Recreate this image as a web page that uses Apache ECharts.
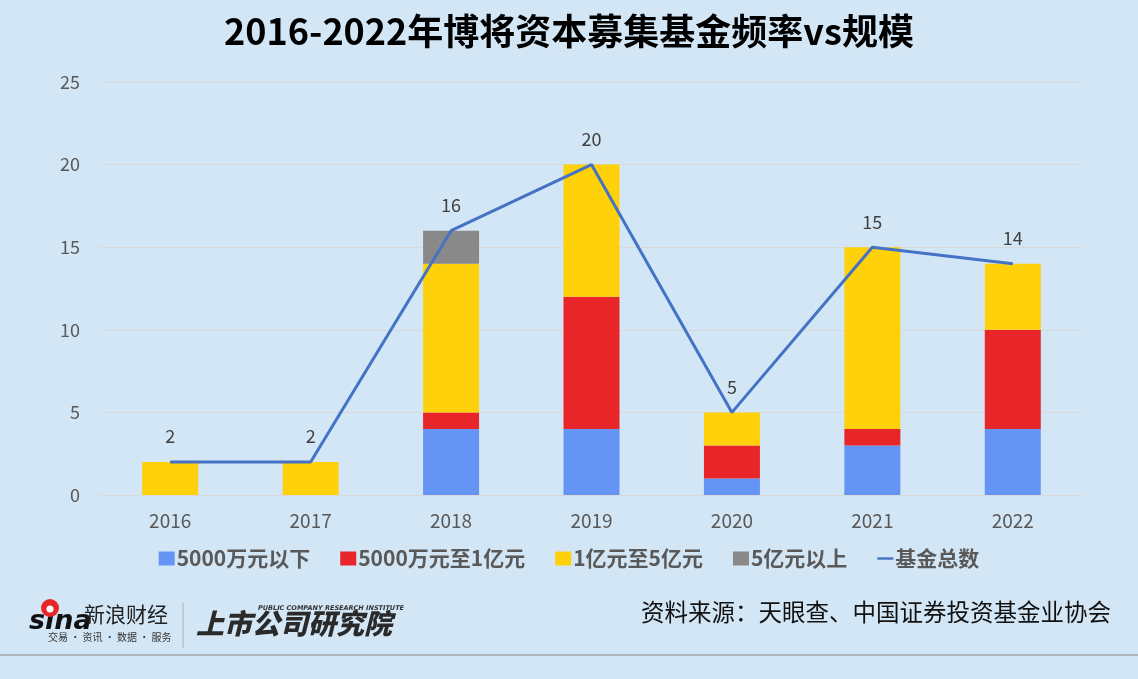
<!DOCTYPE html>
<html><head><meta charset="utf-8">
<script src="https://cdn.jsdelivr.net/npm/echarts@6/dist/echarts.min.js"></script>
<style>html,body{margin:0;padding:0;background:#d3e6f5;}#c{width:1138px;height:679px;}</style>
</head><body><div id="c"></div>
<script>
const categories = ['2016','2017','2018','2019','2020','2021','2022'];
const below5000w = [0,0,4,4,1,3,4];
const w5000to1y = [0,0,1,8,2,1,6];
const y1to5 = [2,2,9,8,2,11,4];
const above5y = [0,0,2,0,0,0,0];
const totals = [2,2,16,20,5,15,14];
const yTicks = {min:0, max:25, interval:5};

const chart = echarts.init(document.getElementById('c'));
const font = '"Noto Sans CJK SC", "Noto Sans", sans-serif';
function bar(name, data, color){
  return {name, type:'bar', stack:'a', data, barWidth:56, itemStyle:{color}, emphasis:{disabled:true}};
}
chart.setOption({
  backgroundColor:'#d3e6f5',
  animation:false,
  textStyle:{fontFamily:font},
  title:{text:'2016-2022年博将资本募集基金频率vs规模', left:'center', top:8,
    textStyle:{fontSize:36, fontWeight:'bold', color:'#000', fontFamily:font}},
  grid:{left:100, right:55, top:82, bottom:184, containLabel:false},
  legend:{bottom:105, left:'center', itemWidth:16, itemHeight:14, itemGap:30,
    textStyle:{fontSize:21, fontWeight:'bold', color:'#595959', fontFamily:font, padding:[0,0,0,-3]},
    data:[{name:'5000万元以下', icon:'rect'},{name:'5000万元至1亿元', icon:'rect'},{name:'1亿元至5亿元', icon:'rect'},{name:'5亿元以上', icon:'rect'},
      {name:'基金总数', icon:'path://M0,0 L20,0 L20,3 L0,3 Z', itemStyle:{color:'#4472c4'}}]},
  xAxis:{type:'category', data:categories, axisTick:{show:false},
    axisLine:{lineStyle:{color:'#d9d9d9'}},
    axisLabel:{fontSize:19, color:'#595959', margin:16, fontFamily:font}},
  yAxis:{type:'value', min:yTicks.min, max:yTicks.max, interval:yTicks.interval,
    axisLine:{show:false}, axisTick:{show:false},
    splitLine:{lineStyle:{color:'#d9d9d9'}},
    axisLabel:{fontSize:18, color:'#595959', margin:20, fontFamily:font}},
  series:[
    bar('5000万元以下', below5000w, '#6495f5'),
    bar('5000万元至1亿元', w5000to1y, '#e8262a'),
    bar('1亿元至5亿元', y1to5, '#fed10a'),
    bar('5亿元以上', above5y, '#898989'),
    {name:'基金总数', type:'line', data:totals, symbol:'circle', symbolSize:1, showSymbol:true,
      lineStyle:{color:'#4472c4', width:3},
      itemStyle:{color:'#4472c4'},
      label:{show:true, position:'top', distance:16, fontSize:18, color:'#404040', fontFamily:font}}
  ],
  graphic:[
    {type:'line', shape:{x1:0,y1:655,x2:1138,y2:655}, style:{stroke:'#a6a6a6', lineWidth:1.5}},
    {type:'text', left:29, top:608, style:{text:'sina', font:'italic bold 27px "DejaVu Sans", sans-serif', fill:'#111'}},
    {type:'circle', shape:{cx:50, cy:608, r:9}, style:{fill:'#e8262a'}},
    {type:'circle', shape:{cx:50, cy:609, r:3.5}, style:{fill:'#fff'}},
    {type:'text', left:84, top:604, style:{text:'新浪财经', font:'21px "Noto Sans CJK SC"', fill:'#222'}},
    {type:'text', left:48, top:632, style:{text:'交易 · 资讯 · 数据 · 服务', font:'10px "Noto Sans CJK SC"', fill:'#333'}},
    {type:'line', shape:{x1:183,y1:603,x2:183,y2:648}, style:{stroke:'#b0b0b0', lineWidth:1}},
    {type:'text', left:258, top:605, style:{text:'PUBLIC COMPANY RESEARCH INSTITUTE', font:'italic bold 6.5px "DejaVu Sans"', fill:'#333'}},
    {type:'text', left:196, top:609, style:{text:'上市公司研究院', font:'italic 900 28px "Noto Sans CJK SC"', fill:'#2a2a2a'}},
    {type:'text', right:27, top:600, style:{text:'资料来源：天眼查、中国证券投资基金业协会', font:'23.5px "Noto Sans CJK SC"', fill:'#111'}}
  ]
});
</script></body></html>
